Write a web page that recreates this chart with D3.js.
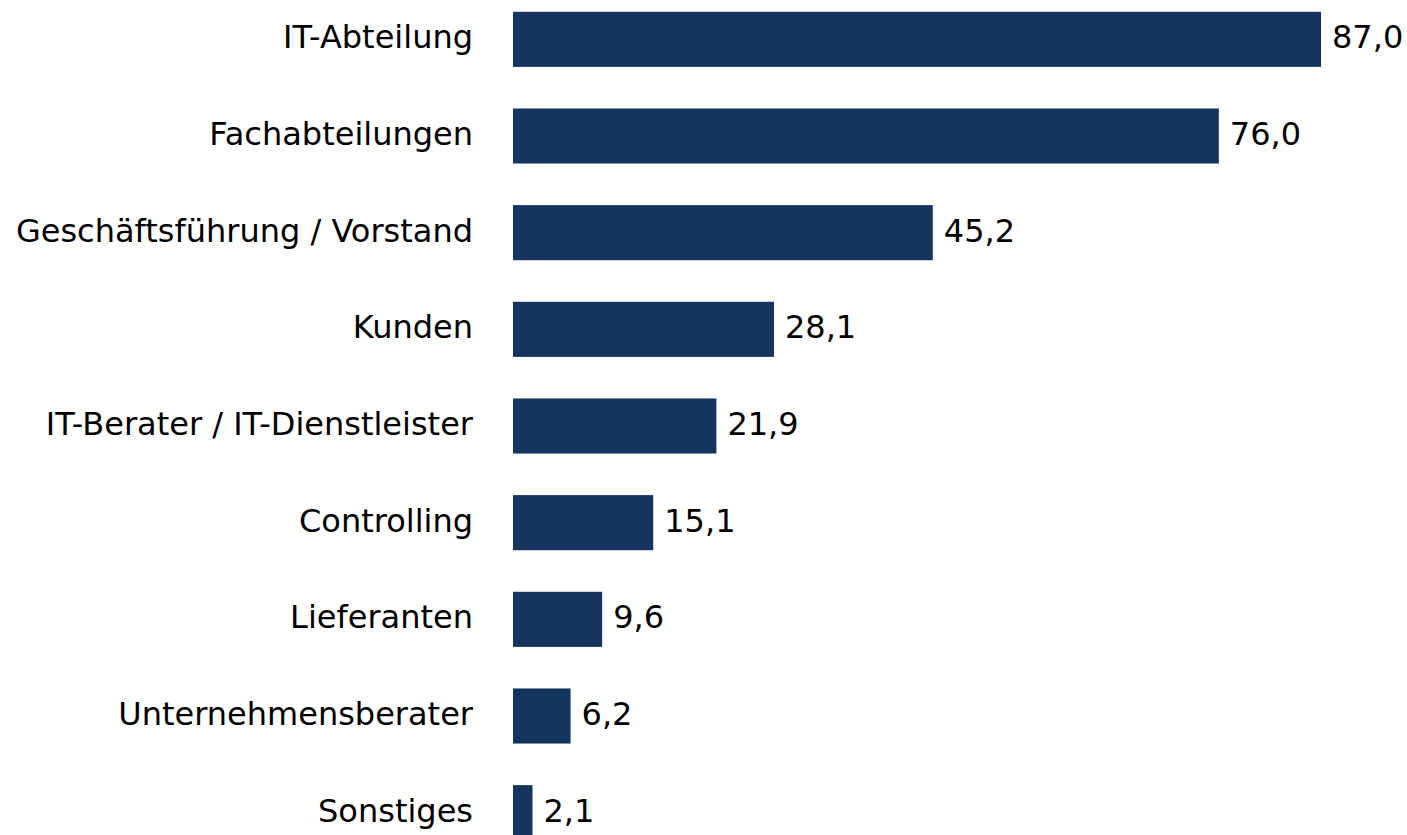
<!DOCTYPE html>
<html>
<head>
<meta charset="utf-8">
<script src="https://cdn.jsdelivr.net/npm/d3@7"></script>
<style>
  body { margin: 0; background: #fff; overflow: hidden; }
  svg { display: block; }
</style>
</head>
<body>
<svg id="chart"></svg>
<script>
// categories and values (percent)
var categories = [
    'IT-Abteilung',
    'Fachabteilungen',
    'Geschäftsführung / Vorstand',
    'Kunden',
    'IT-Berater / IT-Dienstleister',
    'Controlling',
    'Lieferanten',
    'Unternehmensberater',
    'Sonstiges'
];
var values = [87.0, 76.0, 45.2, 28.1, 21.9, 15.1, 9.6, 6.2, 2.1];

var width = 1407, height = 835;
var svg = d3.select('#chart')
    .attr('width', width)
    .attr('height', height);

var rows = categories.map(function(c, i) { return { name: c, value: values[i] }; });

var x = d3.scaleLinear()
    .domain([0, 87])
    .range([513, 1321]);

var y = d3.scaleBand()
    .domain(categories)
    .range([-9, 861])
    .paddingInner(0.43)
    .paddingOuter(0.215);

svg.selectAll('.bar')
    .data(rows)
    .enter().append('rect')
    .attr('class', 'bar')
    .attr('x', x(0))
    .attr('y', function(d) { return y(d.name); })
    .attr('width', function(d) { return x(d.value) - x(0); })
    .attr('height', y.bandwidth())
    .attr('fill', '#15355f');

//value labels right of the bars
svg.selectAll('.value')
    .data(rows)
    .enter().append('text')
    .attr('class', 'value')
    .attr('x', function(d) { return x(d.value) + 11; })
    .attr('y', function(d) { return y(d.name) + y.bandwidth() / 2; })
    .attr('dy', '0.28em')
    .style('font-family', 'DejaVu Sans, Verdana, sans-serif')
    .style('font-size', '32px')
    .style('fill', '#000')
    .text(function(d) { return d3.format('.1f')(d.value).replace('.', ','); });

//category labels
svg.selectAll('.cat')
    .data(rows)
    .enter().append('text')
    .attr('class', 'cat')
    .attr('x', 473)
    .attr('y', function(d) { return y(d.name) + y.bandwidth() / 2; })
    .attr('dy', '0.28em')
    .style('text-anchor', 'end')
    .style('font-family', 'DejaVu Sans, Verdana, sans-serif')
    .style('font-size', '32px')
    .style('fill', '#000')
    .text(function(d) { return d.name; });
</script>
</body>
</html>
